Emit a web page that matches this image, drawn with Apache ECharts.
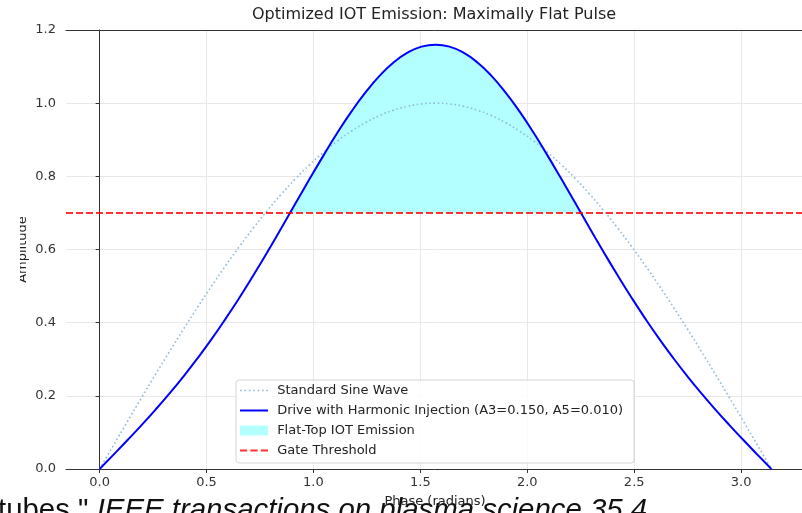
<!DOCTYPE html>
<html>
<head>
<meta charset="utf-8">
<script src="https://cdn.jsdelivr.net/npm/echarts@6/dist/echarts.min.js"></script>
<style>
  html, body { margin: 0; padding: 0; background: #fff; }
  #main { width: 802px; height: 513px; }
</style>
</head>
<body>
<div id="main"></div>
<script>
// phase samples (radians)
const phase = [0, 0.0654, 0.1309, 0.1963, 0.2618, 0.3272, 0.3927, 0.4581, 0.5236, 0.5890, 0.6545, 0.7199,
  0.7854, 0.8508, 0.9163, 0.9817, 1.0472, 1.1126, 1.1781, 1.2435, 1.3090, 1.3744, 1.4399, 1.5053, 1.5708,
  1.6362, 1.7017, 1.7671, 1.8326, 1.8980, 1.9635, 2.0289, 2.0944, 2.1598, 2.2253, 2.2907, 2.3562, 2.4216,
  2.4871, 2.5525, 2.6180, 2.6834, 2.7489, 2.8143, 2.8798, 2.9452, 3.0107, 3.0761, 3.1416];
const sineWave = [0, 0.0654, 0.1305, 0.1951, 0.2588, 0.3214, 0.3827, 0.4423, 0.5, 0.5556, 0.6088, 0.6593,
  0.7071, 0.7518, 0.7934, 0.8315, 0.8660, 0.8969, 0.9239, 0.9469, 0.9659, 0.9808, 0.9914, 0.9979, 1,
  0.9979, 0.9914, 0.9808, 0.9659, 0.9469, 0.9239, 0.8969, 0.8660, 0.8315, 0.7934, 0.7518, 0.7071, 0.6593,
  0.6088, 0.5556, 0.5, 0.4423, 0.3827, 0.3214, 0.2588, 0.1951, 0.1305, 0.0654, 0];
const drive = [0, 0.0393, 0.0792, 0.1201, 0.1624, 0.2067, 0.2533, 0.3027, 0.355, 0.4105, 0.4689, 0.5302,
  0.5939, 0.6595, 0.7261, 0.7924, 0.8573, 0.9196, 0.9775, 1.0295, 1.0746, 1.1111, 1.1379, 1.1545, 1.16,
  1.1545, 1.1379, 1.1111, 1.0746, 1.0295, 0.9775, 0.9196, 0.8573, 0.7924, 0.7261, 0.6595, 0.5939, 0.5302,
  0.4689, 0.4105, 0.355, 0.3027, 0.2533, 0.2067, 0.1624, 0.1201, 0.0792, 0.0393, 0];
const threshold = 0.7;
const crossLeft = 0.8908, crossRight = 2.2508;   // where the drive meets the threshold
const xTicks = [0, 0.5, 1.0, 1.5, 2.0, 2.5, 3.0];
const xMin = -0.1571, xMax = 3.2987;

const sinePts = phase.map((x, i) => [x, sineWave[i]]);
const drivePts = phase.map((x, i) => [x, drive[i]]);
const fillPts = [[crossLeft, threshold]]
  .concat(drivePts.filter(p => p[1] > threshold))
  .concat([[crossRight, threshold]]);

const font = 'DejaVu Sans';
// legend line icons (dotted / solid / dashed)
const iconDotted = 'path://M0,0h1.5v1.5h-1.5z M4,0h1.5v1.5h-1.5z M8,0h1.5v1.5h-1.5z M12,0h1.5v1.5h-1.5z ' +
  'M16,0h1.5v1.5h-1.5z M20,0h1.5v1.5h-1.5z M24,0h1.5v1.5h-1.5z';
const iconSolid = 'path://M0,0h28v2h-28z';
const iconDashed = 'path://M0,0h7v2h-7z M10,0h7v2h-7z M20,0h7v2h-7z';

var myChart = echarts.init(document.getElementById('main'));

var option = {
  animation: false,
  grid: { left: 66, top: 30, width: 739, height: 439, outerBoundsMode: 'none' },
  legend: {
    orient: 'vertical',
    left: 236, top: 380,
    padding: [4, 11, 6, 4],
    itemWidth: 28, itemHeight: 10, itemGap: 7,
    backgroundColor: 'rgba(255,255,255,0.8)',
    borderColor: '#d4d4d4', borderWidth: 1, borderRadius: 3,
    textStyle: { fontFamily: font, fontSize: 13, color: '#222' },
    formatter: name => ' ' + name,
    data: [
      { name: 'Standard Sine Wave', icon: iconDotted },
      { name: 'Drive with Harmonic Injection (A3=0.150, A5=0.010)', icon: iconSolid },
      { name: 'Flat-Top IOT Emission', icon: 'rect', itemStyle: { color: '#b3ffff' } },
      { name: 'Gate Threshold', icon: iconDashed }
    ]
  },
  xAxis: [
    {
      type: 'value', min: xMin, max: xMax,
      axisLine: { show: true, onZero: false, lineStyle: { color: '#333' } },
      axisTick: { show: true, length: 4, customValues: xTicks, lineStyle: { color: '#333' } },
      axisLabel: { customValues: xTicks, margin: 7, fontFamily: font, fontSize: 13, color: '#333',
        formatter: v => v.toFixed(1) },
      splitLine: { show: true, lineStyle: { color: '#e8e8e8', width: 1 } }
    },
    {
      // top spine only
      type: 'value', position: 'top', min: xMin, max: xMax,
      axisLine: { show: true, onZero: false, lineStyle: { color: '#333' } },
      axisTick: { show: false }, axisLabel: { show: false }, splitLine: { show: false }
    }
  ],
  yAxis: {
    type: 'value', min: 0, max: 1.2, interval: 0.2,
    name: 'Amplitude', nameLocation: 'middle', nameGap: 37, nameRotate: 90, nameMoveOverlap: false,
    nameTextStyle: { fontFamily: font, fontSize: 13, color: '#222' },
    axisLine: { show: true, lineStyle: { color: '#333' } },
    axisTick: { show: true, length: 4, lineStyle: { color: '#333' } },
    axisLabel: { margin: 10, fontFamily: font, fontSize: 13, color: '#333', formatter: v => v.toFixed(1) },
    splitLine: { show: true, lineStyle: { color: '#e8e8e8', width: 1 } }
  },
  series: [
    {
      name: 'Standard Sine Wave', type: 'line', data: sinePts, smooth: true,
      symbol: 'none', z: 2,
      lineStyle: { color: '#8fbbd9', width: 1.6, type: [1.6, 2.6] },
      itemStyle: { color: '#8fbbd9' }
    },
    {
      name: 'Flat-Top IOT Emission', type: 'line', data: fillPts, smooth: true,
      symbol: 'none', z: 1,
      lineStyle: { width: 0 },
      itemStyle: { color: '#b3ffff' },
      areaStyle: { origin: threshold, color: '#b3ffff', opacity: 1 }
    },
    {
      name: 'Drive with Harmonic Injection (A3=0.150, A5=0.010)', type: 'line', data: drivePts, smooth: true,
      symbol: 'none', z: 3,
      lineStyle: { color: '#0000ff', width: 2 },
      itemStyle: { color: '#0000ff' }
    },
    {
      name: 'Gate Threshold', type: 'line', data: [[xMin, threshold], [xMax, threshold]],
      symbol: 'none', z: 4,
      lineStyle: { color: 'rgba(255,0,0,0.8)', width: 2, type: [7, 3] },
      itemStyle: { color: 'rgba(255,0,0,0.8)' }
    }
  ],
  graphic: [
    {
      type: 'text', x: 434, y: 15, z: 10,
      style: { text: 'Optimized IOT Emission: Maximally Flat Pulse', fontFamily: font, fontSize: 16,
        fill: '#222', align: 'center', verticalAlign: 'middle' }
    },
    // the y label is partly hidden in the source
    { type: 'rect', shape: { x: 0, y: 190, width: 20, height: 110 }, style: { fill: '#fff' }, z: 10 },
    {
      type: 'text', x: -2, y: 496, z: 10,
      style: {
        text: '{n|tubes." }{i|IEEE transactions on plasma science 35.4}',
        rich: {
          n: { fontFamily: 'Liberation Sans', fontSize: 29.4, fill: '#111' },
          i: { fontFamily: 'Liberation Sans', fontSize: 29.4, fontStyle: 'italic', fill: '#111' }
        }
      }
    },
    // x axis title, drawn over the caption as in the source
    {
      type: 'text', x: 435, y: 502, z: 10,
      style: { text: 'Phase (radians)', fontFamily: font, fontSize: 13, fill: '#222',
        align: 'center', verticalAlign: 'middle' }
    }
  ]
};

myChart.setOption(option);
</script>
</body>
</html>
